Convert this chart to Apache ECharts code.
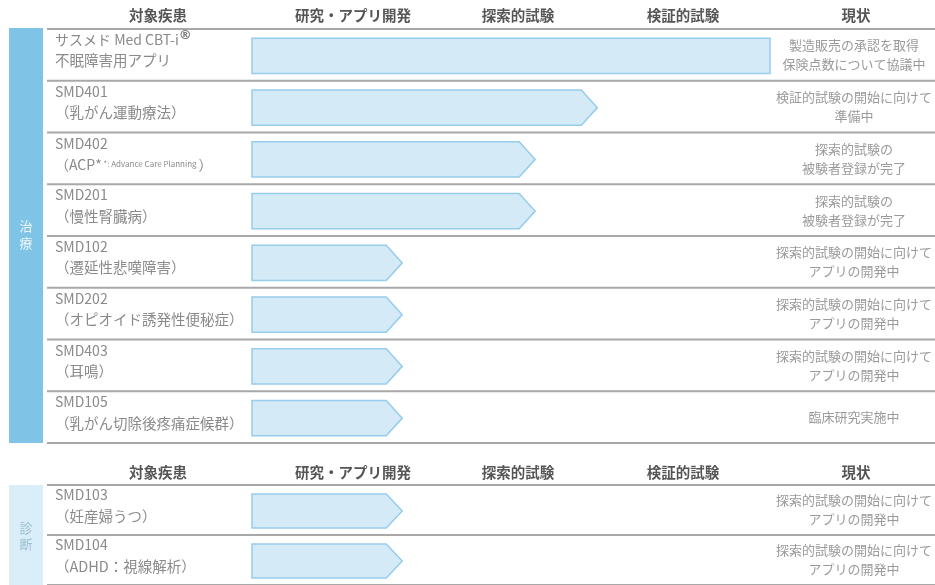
<!DOCTYPE html>
<html lang="ja">
<head>
<meta charset="utf-8">
<title>開発パイプライン</title>
<script src="https://cdn.jsdelivr.net/npm/echarts@6/dist/echarts.min.js"></script>
<style>
  html, body { margin: 0; padding: 0; background: #ffffff; }
  #chart { width: 935px; height: 585px; }
</style>
</head>
<body>
<div id="chart"></div>
<script>
// Column headings of the pipeline table
const columnHeaders = ['対象疾患', '研究・アプリ開発', '探索的試験', '検証的試験', '現状'];

// Section names (vertical side bands)
const sectionNames = ['治療', '診断'];

// Treatment programmes
const therapyCodes = ['サスメド Med CBT-i®', 'SMD401', 'SMD402', 'SMD201', 'SMD102', 'SMD202', 'SMD403', 'SMD105'];
const therapyTargets = ['不眠障害用アプリ', '（乳がん運動療法）', '（ACP* *: Advance Care Planning ）', '（慢性腎臓病）',
  '（遷延性悲嘆障害）', '（オピオイド誘発性便秘症）', '（耳鳴）', '（乳がん切除後疼痛症候群）'];
// progress along the stage axis (0 = start of research, 3 = end of confirmatory trial)
const therapyProgress = [3.0, 2.0, 1.64, 1.64, 0.87, 0.87, 0.87, 0.87];
const therapyShape = ['bar', 'arrow', 'arrow', 'arrow', 'arrow', 'arrow', 'arrow', 'arrow'];
const therapyStatus = [
  '製造販売の承認を取得\n保険点数について協議中',
  '検証的試験の開始に向けて\n準備中',
  '探索的試験の\n被験者登録が完了',
  '探索的試験の\n被験者登録が完了',
  '探索的試験の開始に向けて\nアプリの開発中',
  '探索的試験の開始に向けて\nアプリの開発中',
  '探索的試験の開始に向けて\nアプリの開発中',
  '臨床研究実施中'
];

// Diagnostic programmes
const diagnosisCodes = ['SMD103', 'SMD104'];
const diagnosisTargets = ['（妊産婦うつ）', '（ADHD：視線解析）'];
const diagnosisProgress = [0.87, 0.87];
const diagnosisShape = ['arrow', 'arrow'];
const diagnosisStatus = [
  '探索的試験の開始に向けて\nアプリの開発中',
  '探索的試験の開始に向けて\nアプリの開発中'
];

const FONT = '"Noto Sans CJK JP", "Noto Sans", sans-serif';
const LABEL_COLOR = '#8a8a8a';
const STATUS_COLOR = '#9a9a9a';
const RULE_COLOR = '#a8a8a8';

const chart = echarts.init(document.getElementById('chart'), null, { renderer: 'canvas' });

// rich-text label for the disease column
function nameLabel(code, target) {
  let first;
  if (code.endsWith('®')) {
    first = '{n|' + code.slice(0, -1) + '}{sup|®}';
  } else {
    first = '{n|' + code + '}';
  }
  let second;
  const m = target.match(/^（ACP\*\s(\*:[^）]*)）$/);
  if (m) {
    second = '{n|（ACP*}{s| ' + m[1] + '}{n|）}';
  } else {
    second = '{j|' + target + '}';
  }
  return first + '\n' + second;
}

const nameRich = {
  n: { fontSize: 14, color: LABEL_COLOR, fontFamily: FONT, lineHeight: 21 },
  j: { fontSize: 14.5, color: LABEL_COLOR, fontFamily: FONT, lineHeight: 21 },
  s: { fontSize: 8, color: LABEL_COLOR, fontFamily: FONT, lineHeight: 21 },
  sup: { fontSize: 13, fontWeight: 'bold', color: '#7a7a7a', fontFamily: '"DejaVu Sans", sans-serif', lineHeight: 14, verticalAlign: 'top' }
};

// draws one pipeline mark plus the row rules spanning the table width
function renderRow(params, api) {
  const v = api.value(0);
  const idx = api.value(1);
  const isArrow = api.value(2) === 1;
  const start = api.coord([0, idx]);
  const end = api.coord([v, idx]);
  const band = api.size([0, 1])[1];
  const cy = start[1] + 1;
  const h = band * 0.68;
  const top = cy - h / 2;
  const bot = cy + h / 2;
  const tip = isArrow ? 16 : 0;
  const x0 = start[0];
  const x1 = end[0];
  const pts = isArrow
    ? [[x0, top], [x1 - tip, top], [x1, cy], [x1 - tip, bot], [x0, bot]]
    : [[x0, top], [x1, top], [x1, bot], [x0, bot]];

  const ruleLeft = params.coordSys.x - 205;
  const ruleRight = api.getWidth();
  const children = [{
    type: 'polygon',
    shape: { points: pts },
    style: { fill: '#d5eaf7', stroke: '#96cdeb', lineWidth: 1.5 }
  }, {
    type: 'line',
    shape: { x1: ruleLeft, y1: start[1] + band / 2, x2: ruleRight, y2: start[1] + band / 2 },
    style: { stroke: RULE_COLOR, lineWidth: 2 }
  }];
  if (params.dataIndex === 0) {
    children.push({
      type: 'line',
      shape: { x1: ruleLeft, y1: start[1] - band / 2, x2: ruleRight, y2: start[1] - band / 2 },
      style: { stroke: RULE_COLOR, lineWidth: 2 }
    });
  }
  return { type: 'group', children: children };
}

function buildSection(gridIndex, codes, targets, progress, shapes, status) {
  const cats = codes.map((c, i) => nameLabel(c, targets[i]));
  const yAxes = [{
    type: 'category', gridIndex: gridIndex, data: cats, inverse: true,
    axisLine: { show: false }, axisTick: { show: false }, splitLine: { show: false },
    axisLabel: {
      interval: 0, align: 'left', margin: 197, padding: [0, 0, 9, 0],
      rich: nameRich, formatter: v => v
    }
  }, {
    type: 'category', gridIndex: gridIndex, data: status, inverse: true, position: 'right',
    axisLine: { show: false }, axisTick: { show: false }, splitLine: { show: false },
    axisLabel: {
      interval: 0, align: 'center', margin: 84, padding: [6, 0, 0, 0],
      fontSize: 13, lineHeight: 19, color: STATUS_COLOR, fontFamily: FONT
    }
  }];
  const xAxis = {
    type: 'value', gridIndex: gridIndex, min: 0, max: 3,
    show: false
  };
  const series = {
    type: 'custom',
    xAxisIndex: gridIndex,
    yAxisIndex: gridIndex * 2,
    clip: false,
    renderItem: renderRow,
    data: progress.map((p, i) => [p, i, shapes[i] === 'arrow' ? 1 : 0]),
    encode: { x: 0, y: 1 },
    silent: true
  };
  return { yAxes, xAxis, series };
}

const therapy = buildSection(0, therapyCodes, therapyTargets, therapyProgress, therapyShape, therapyStatus);
const diagnosis = buildSection(1, diagnosisCodes, diagnosisTargets, diagnosisProgress, diagnosisShape, diagnosisStatus);

const ROW_H = 51.75;
const headerCenters = [158, 353, 518, 683, 856];

function headerTexts(y) {
  return columnHeaders.map((t, i) => ({
    type: 'text',
    x: headerCenters[i], y: y,
    style: {
      text: t, fontSize: 14.5, fontWeight: 'bold', fill: '#555555', fontFamily: FONT,
      align: 'center', verticalAlign: 'middle'
    }
  }));
}

const option = {
  backgroundColor: '#ffffff',
  animation: false,
  grid: [
    { left: 252, width: 520, top: 29, height: ROW_H * therapyCodes.length },
    { left: 252, width: 520, top: 485, height: ROW_H * diagnosisCodes.length }
  ],
  xAxis: [therapy.xAxis, diagnosis.xAxis],
  yAxis: [...therapy.yAxes, ...diagnosis.yAxes],
  series: [therapy.series, diagnosis.series],
  graphic: [
    ...headerTexts(15),
    ...headerTexts(472),
    {
      type: 'rect', shape: { x: 9, y: 28, width: 34, height: ROW_H * therapyCodes.length + 1 },
      style: { fill: '#7fc4e7' }, z: -1
    },
    {
      type: 'text', x: 26, y: 235,
      style: {
        text: sectionNames[0].split('').join('\n'), fontSize: 13, lineHeight: 17,
        fill: 'rgba(255,255,255,0.85)', fontFamily: FONT, align: 'center', verticalAlign: 'middle'
      }
    },
    {
      type: 'rect', shape: { x: 9, y: 485, width: 34, height: ROW_H * diagnosisCodes.length + 2 },
      style: { fill: '#d9eef9' }, z: -1
    },
    {
      type: 'text', x: 26, y: 536,
      style: {
        text: sectionNames[1].split('').join('\n'), fontSize: 13, lineHeight: 16,
        fill: '#9bbdd1', fontFamily: FONT, align: 'center', verticalAlign: 'middle'
      }
    }
  ]
};

chart.setOption(option);
</script>
</body>
</html>
